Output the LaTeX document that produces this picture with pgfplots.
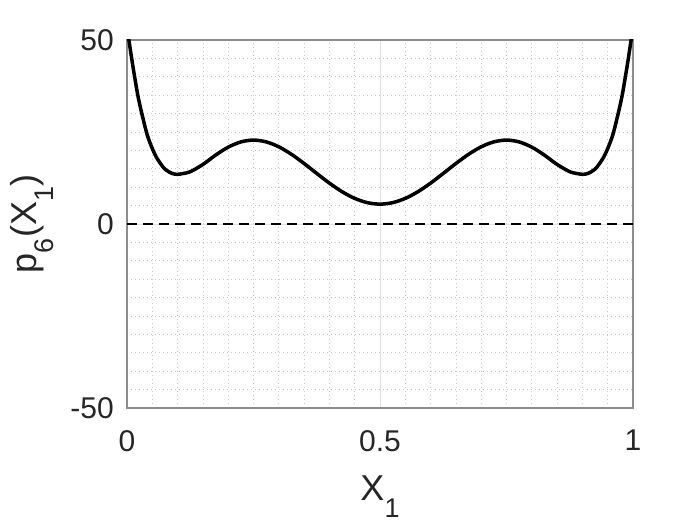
\documentclass[border=0pt]{standalone}
\usepackage{fontspec}
\setmainfont{Liberation Sans}
\usepackage{pgfplots}
\pgfplotsset{compat=1.18}
\definecolor{axgray}{RGB}{140,140,140}
\definecolor{txt}{RGB}{38,38,38}
\definecolor{majgrid}{RGB}{225,225,225}
\definecolor{mingrid}{RGB}{200,200,200}
\newcommand{\lsub}[1]{\raisebox{-17pt}{\fontsize{27}{27}\selectfont #1}}
\pgfplotstableread{
x y
0 53.5
0.01 44.3
0.02 36
0.025 32.6
0.03 29.6
0.04 24.2
0.05 20.5
0.06 17.7
0.075 14.9
0.09 13.7
0.1 13.5
0.11 13.7
0.125 14.2
0.15 16.18
0.175 18.71
0.2 20.88
0.225 22.31
0.25 22.80
0.275 22.32
0.3 20.98
0.325 18.94
0.35 16.44
0.375 13.74
0.4 11.11
0.425 8.78
0.45 6.96
0.475 5.80
0.5 5.4
0.525 5.80
0.55 6.96
0.575 8.78
0.6 11.11
0.625 13.74
0.65 16.44
0.675 18.94
0.7 20.98
0.725 22.32
0.75 22.80
0.775 22.31
0.8 20.88
0.825 18.71
0.85 16.18
0.875 14.2
0.89 13.7
0.9 13.5
0.91 13.7
0.925 14.9
0.94 17.7
0.95 20.5
0.96 24.2
0.97 29.6
0.975 32.6
0.98 36
0.99 44.3
1 53.5
}\pdata
\begin{document}
\begin{tikzpicture}
\useasboundingbox (0,0) rectangle (700pt,525pt);
\begin{axis}[
  at={(127pt,117pt)}, anchor=south west,
  scale only axis, width=506pt, height=368pt,
  xmin=0, xmax=1, ymin=-50, ymax=50,
  xtick={0,0.5,1}, xticklabels={0,0.5,1},
  ytick={-50,0,50}, yticklabels={-50,0,50},
  minor x tick num=9, minor y tick num=9,
  grid=both,
  major grid style={majgrid, line width=0.8pt},
  minor grid style={mingrid, line width=0.8pt, dash pattern=on 1pt off 3pt},
  axis line style={axgray, line width=1.3pt},
  major tick length=0pt, minor tick length=0pt,
  ticklabel style={font=\fontsize{30}{30}\selectfont, text=txt, inner sep=0pt},
  xticklabel style={anchor=north, yshift=-22pt},
  yticklabel style={anchor=east, xshift=-13pt},
  /pgf/number format/assume math mode=true,
  xlabel={X\lsub{1}},
  ylabel={p\lsub{6}(X\lsub{1})},
  label style={font=\fontsize{36}{36}\selectfont, text=txt},
  xlabel style={at={(axis description cs:0.5,-0.25)}, anchor=base},
  ylabel style={at={(axis description cs:-0.178,0.5)}, anchor=base, rotate=0},
  clip=true,
]
\addplot[black, line width=2pt, dash pattern=on 10pt off 6pt] coordinates {(0,0) (1,0)};
\addplot[black, line width=3.5pt, smooth] table[x=x, y=y] {\pdata};
\end{axis}
\end{tikzpicture}
\end{document}
